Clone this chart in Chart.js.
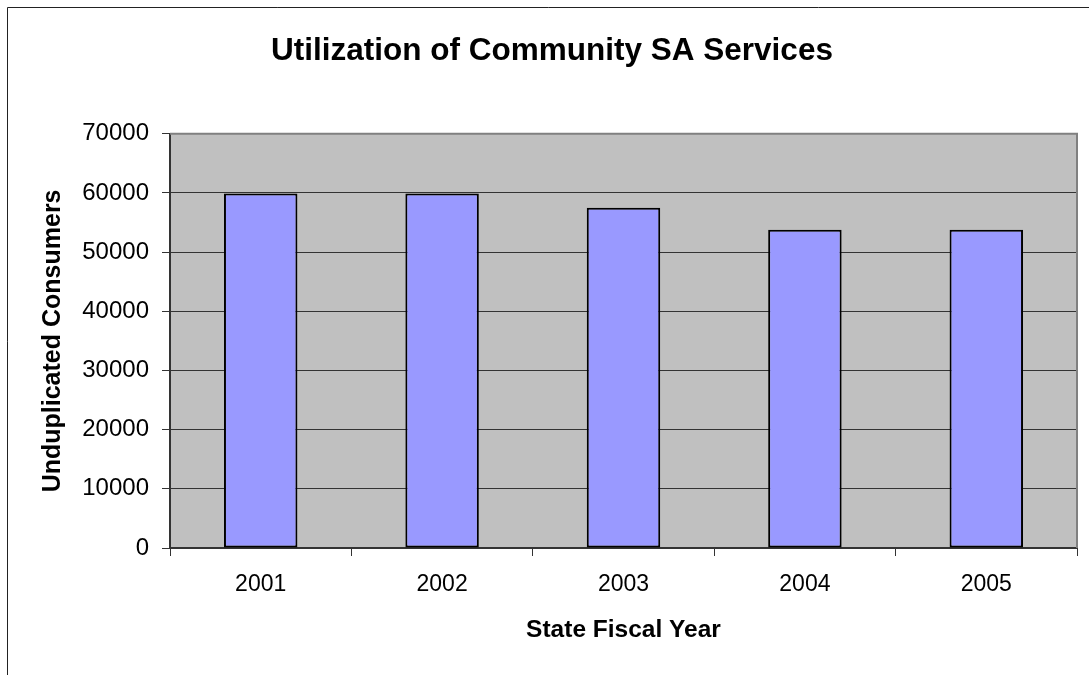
<!DOCTYPE html>
<html>
<head>
<meta charset="utf-8">
<script src="https://cdn.jsdelivr.net/npm/chart.js@4/dist/chart.umd.min.js"></script>
<style>
  body { margin: 0; background: #fff; }
  #wrap { position: relative; width: 1089px; height: 675px; }
</style>
</head>
<body>
<div id="wrap"><canvas id="utilChart"></canvas></div>
<script>
const years = ["2001", "2002", "2003", "2004", "2005"];
const consumers = [59900, 59900, 57500, 53800, 53800];
const yTicks = [0, 10000, 20000, 30000, 40000, 50000, 60000, 70000];

// grey plot area, plot border and the outer frame
const chartFrame = {
  id: "chartFrame",
  beforeDraw(chart) {
    const { ctx, chartArea: a } = chart;
    ctx.save();
    ctx.fillStyle = "#c0c0c0";
    ctx.fillRect(a.left, a.top, a.right - a.left, a.bottom - a.top);
    ctx.strokeStyle = "#222";
    ctx.lineWidth = 1;
    ctx.beginPath();
    ctx.moveTo(7.5, 675);
    ctx.lineTo(7.5, 7.5);
    ctx.lineTo(1089, 7.5);
    ctx.stroke();
    ctx.restore();
  },
  afterDatasetsDraw(chart) {
    const { ctx, chartArea: a } = chart;
    ctx.save();
    ctx.strokeStyle = "#808080";
    ctx.lineWidth = 2;
    ctx.beginPath();
    ctx.moveTo(a.left, a.top);
    ctx.lineTo(a.right, a.top);
    ctx.lineTo(a.right, a.bottom);
    ctx.stroke();
    ctx.restore();
  }
};

const font = "'Liberation Sans', Arial, sans-serif";

new Chart(document.getElementById("utilChart").getContext("2d"), {
  type: "bar",
  data: {
    labels: years,
    datasets: [
      {
        label: "Unduplicated Consumers",
        data: consumers,
        backgroundColor: "#9999ff",
        borderColor: "#000",
        borderWidth: 2,
        borderSkipped: false,
        barPercentage: 1,
        categoryPercentage: 0.405,
      },
    ],
  },
  options: {
    responsive: true,
    maintainAspectRatio: false,
    animation: false,
    layout: { padding: { top: 0, left: 27, right: 12, bottom: 0 } },
    plugins: {
      legend: { display: false },
      tooltip: { enabled: false },
      title: {
        display: true,
        text: "Utilization of Community SA Services",
        color: "#000",
        font: { family: font, size: 31.5, weight: "bold" },
        padding: { top: 32, bottom: 64 },
      },
    },
    scales: {
      x: {
        afterFit(scale) { scale.height = 127; },
        grid: { drawOnChartArea: false, drawTicks: true, tickLength: 8, color: "#333", offset: true },
        border: { color: "#333", width: 2 },
        ticks: { color: "#000", padding: 15, font: { family: font, size: 23 } },
        title: {
          display: true,
          text: "State Fiscal Year",
          color: "#000",
          font: { family: font, size: 24.5, weight: "bold" },
          padding: { top: 0, bottom: 30 },
        },
      },
      y: {
        min: 0,
        max: 70000,
        afterFit(scale) { scale.width = 143; },
        afterBuildTicks(scale) { scale.ticks = yTicks.map(v => ({ value: v })); },
        grid: { color: "#333", tickLength: 8, lineWidth: 1 },
        border: { color: "#333", width: 2 },
        ticks: {
          color: "#000",
          padding: 13,
          font: { family: font, size: 24 },
          callback: v => String(v),
        },
        title: {
          display: true,
          text: "Unduplicated Consumers",
          color: "#000",
          font: { family: font, size: 25, weight: "bold" },
          padding: { top: 11, bottom: 0 },
        },
      },
    },
  },
  plugins: [chartFrame],
});
</script>
</body>
</html>
